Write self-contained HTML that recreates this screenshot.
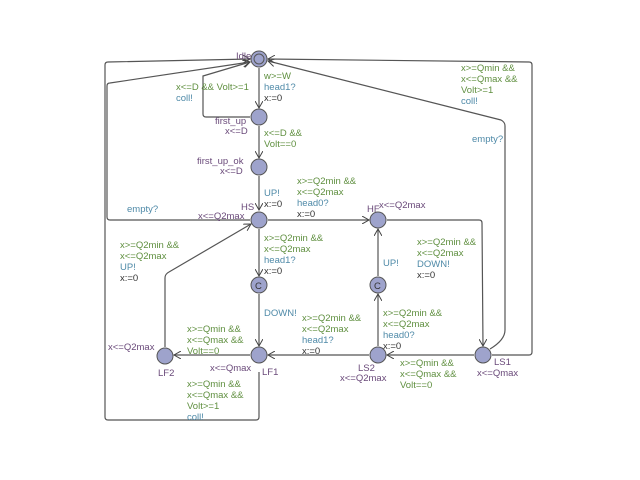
<!DOCTYPE html>
<html><head><meta charset="utf-8"><style>
html,body{margin:0;padding:0;background:#fff;}
svg{display:block;}
text{font-family:"Liberation Sans",sans-serif;font-size:9.5px;}
.g{fill:#5f8f3f;} .b{fill:#4f8aa8;} .k{fill:#333;} .p{fill:#6a4a7a;}
.e{fill:none;stroke:#555;stroke-width:1.2;}
.n{fill:#9ea3cc;stroke:#555;stroke-width:1;}
</style></head><body>
<svg width="640" height="480" viewBox="0 0 640 480">
<defs><marker id="a" markerWidth="8" markerHeight="8" refX="7" refY="4" orient="auto" markerUnits="userSpaceOnUse"><path d="M0,0 L7,4 L0,8" fill="none" stroke="#444" stroke-width="1"/></marker></defs>
<!-- edges -->
<path class="e" d="M259,68 L259,108" marker-end="url(#a)"/>
<path class="e" d="M250,117 L206,117 Q203,117 203,114 L203,76 L250,62" marker-end="url(#a)"/>
<path class="e" d="M259,126 L259,158" marker-end="url(#a)"/>
<path class="e" d="M259,176 L259,210" marker-end="url(#a)"/>
<path class="e" d="M250,220 L110,220 Q107,220 107,217 L107,86 Q107,83 110,83 L250,62" marker-end="url(#a)"/>
<path class="e" d="M259,372 L259,417 Q259,420 256,420 L108,420 Q105,420 105,417 L105,65 Q105,62 108,62 L250,59" marker-end="url(#a)"/>
<path class="e" d="M268,220 L369,220" marker-end="url(#a)"/>
<path class="e" d="M259,229 L259,276" marker-end="url(#a)"/>
<path class="e" d="M259,294 L259,346" marker-end="url(#a)"/>
<path class="e" d="M387,220 L479,220 Q482,220 482,223 L483,346" marker-end="url(#a)"/>
<path class="e" d="M378,346 L378,294" marker-end="url(#a)"/>
<path class="e" d="M378,276 L378,229" marker-end="url(#a)"/>
<path class="e" d="M474,355 L387,355" marker-end="url(#a)"/>
<path class="e" d="M369,355 L268,355" marker-end="url(#a)"/>
<path class="e" d="M250,355 L174,355" marker-end="url(#a)"/>
<path class="e" d="M165,347 L165,278 Q165,274 169,272 L251,224" marker-end="url(#a)"/>
<path class="e" d="M490,349 Q505,340 505,330 L505,126 Q505,122 501,120 L268,61" marker-end="url(#a)"/>
<path class="e" d="M492,355 L529,355 Q532,355 532,352 L532,65 Q532,62 529,62 L268,59" marker-end="url(#a)"/>
<!-- nodes -->
<circle class="n" cx="259" cy="59" r="8"/><circle cx="259" cy="59" r="5" fill="none" stroke="#555"/>
<circle class="n" cx="259" cy="117" r="8"/>
<circle class="n" cx="259" cy="167" r="8"/>
<circle class="n" cx="259" cy="220" r="8"/>
<circle class="n" cx="259" cy="285" r="8"/><text x="255" y="289" class="k">C</text>
<circle class="n" cx="259" cy="355" r="8"/>
<circle class="n" cx="165" cy="356" r="8"/>
<circle class="n" cx="378" cy="220" r="8"/>
<circle class="n" cx="378" cy="285" r="8"/><text x="374" y="289" class="k">C</text>
<circle class="n" cx="378" cy="355" r="8"/>
<circle class="n" cx="483" cy="355" r="8"/>
<!-- node labels -->
<text x="236" y="59" class="p">Idle</text>
<text x="215" y="124" class="p">first_up</text><text x="225" y="134" class="p">x&lt;=D</text>
<text x="197" y="164" class="p">first_up_ok</text><text x="220" y="174" class="p">x&lt;=D</text>
<text x="241" y="210" class="p">HS</text><text x="198" y="219" class="p">x&lt;=Q2max</text>
<text x="367" y="212" class="p">HF</text><text x="379" y="208" class="p">x&lt;=Q2max</text>
<text x="262" y="375" class="p">LF1</text><text x="210" y="371" class="p">x&lt;=Qmax</text>
<text x="158" y="376" class="p">LF2</text><text x="108" y="350" class="p">x&lt;=Q2max</text>
<text x="358" y="371" class="p">LS2</text><text x="340" y="381" class="p">x&lt;=Q2max</text>
<text x="494" y="365" class="p">LS1</text><text x="477" y="376" class="p">x&lt;=Qmax</text>
<!-- edge labels -->
<text x="176" y="90" class="g">x&lt;=D &amp;&amp; Volt&gt;=1</text><text x="176" y="101" class="b">coll!</text>
<text x="264" y="79" class="g">w&gt;=W</text><text x="264" y="90" class="b">head1?</text><text x="264" y="101" class="k">x:=0</text>
<text x="264" y="136" class="g">x&lt;=D &amp;&amp;</text><text x="264" y="147" class="g">Volt==0</text>
<text x="264" y="196" class="b">UP!</text><text x="264" y="207" class="k">x:=0</text>
<text x="127" y="212" class="b">empty?</text>
<text x="297" y="184" class="g">x&gt;=Q2min &amp;&amp;</text><text x="297" y="195" class="g">x&lt;=Q2max</text><text x="297" y="206" class="b">head0?</text><text x="297" y="217" class="k">x:=0</text>
<text x="264" y="241" class="g">x&gt;=Q2min &amp;&amp;</text><text x="264" y="252" class="g">x&lt;=Q2max</text><text x="264" y="263" class="b">head1?</text><text x="264" y="274" class="k">x:=0</text>
<text x="120" y="248" class="g">x&gt;=Q2min &amp;&amp;</text><text x="120" y="259" class="g">x&lt;=Q2max</text><text x="120" y="270" class="b">UP!</text><text x="120" y="281" class="k">x:=0</text>
<text x="264" y="316" class="b">DOWN!</text>
<text x="187" y="332" class="g">x&gt;=Qmin &amp;&amp;</text><text x="187" y="343" class="g">x&lt;=Qmax &amp;&amp;</text><text x="187" y="354" class="g">Volt==0</text>
<text x="187" y="387" class="g">x&gt;=Qmin &amp;&amp;</text><text x="187" y="398" class="g">x&lt;=Qmax &amp;&amp;</text><text x="187" y="409" class="g">Volt&gt;=1</text><text x="187" y="420" class="b">coll!</text>
<text x="302" y="321" class="g">x&gt;=Q2min &amp;&amp;</text><text x="302" y="332" class="g">x&lt;=Q2max</text><text x="302" y="343" class="b">head1?</text><text x="302" y="354" class="k">x:=0</text>
<text x="383" y="316" class="g">x&gt;=Q2min &amp;&amp;</text><text x="383" y="327" class="g">x&lt;=Q2max</text><text x="383" y="338" class="b">head0?</text><text x="383" y="349" class="k">x:=0</text>
<text x="383" y="266" class="b">UP!</text>
<text x="417" y="245" class="g">x&gt;=Q2min &amp;&amp;</text><text x="417" y="256" class="g">x&lt;=Q2max</text><text x="417" y="267" class="b">DOWN!</text><text x="417" y="278" class="k">x:=0</text>
<text x="400" y="366" class="g">x&gt;=Qmin &amp;&amp;</text><text x="400" y="377" class="g">x&lt;=Qmax &amp;&amp;</text><text x="400" y="388" class="g">Volt==0</text>
<text x="461" y="71" class="g">x&gt;=Qmin &amp;&amp;</text><text x="461" y="82" class="g">x&lt;=Qmax &amp;&amp;</text><text x="461" y="93" class="g">Volt&gt;=1</text><text x="461" y="104" class="b">coll!</text>
<text x="472" y="142" class="b">empty?</text>
</svg>
</body></html>
